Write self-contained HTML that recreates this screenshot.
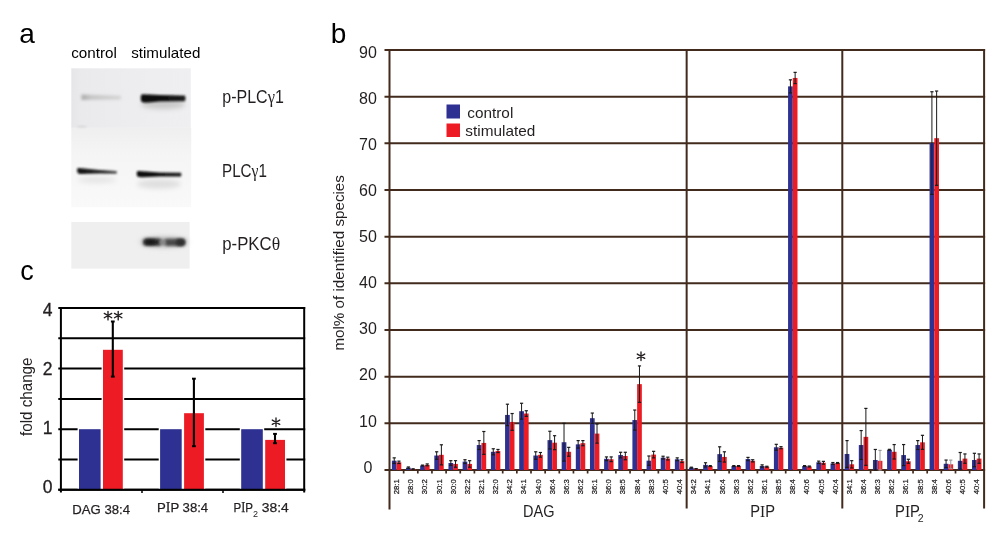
<!DOCTYPE html>
<html><head><meta charset="utf-8"><style>
html,body{margin:0;padding:0;background:#fff;width:1000px;height:533px;overflow:hidden}
svg{display:block;font-family:"Liberation Sans",sans-serif;will-change:transform}
</style></head><body>
<svg width="1000" height="533" viewBox="0 0 1000 533">
<rect width="1000" height="533" fill="#fff"/>
<line x1="384.5" y1="470.00" x2="985.1" y2="470.00" stroke="#422b1c" stroke-width="2"/>
<line x1="384.5" y1="423.33" x2="985.1" y2="423.33" stroke="#422b1c" stroke-width="2"/>
<line x1="384.5" y1="376.66" x2="985.1" y2="376.66" stroke="#422b1c" stroke-width="2"/>
<line x1="384.5" y1="329.99" x2="985.1" y2="329.99" stroke="#422b1c" stroke-width="2"/>
<line x1="384.5" y1="283.32" x2="985.1" y2="283.32" stroke="#422b1c" stroke-width="2"/>
<line x1="384.5" y1="236.65" x2="985.1" y2="236.65" stroke="#422b1c" stroke-width="2"/>
<line x1="384.5" y1="189.98" x2="985.1" y2="189.98" stroke="#422b1c" stroke-width="2"/>
<line x1="384.5" y1="143.31" x2="985.1" y2="143.31" stroke="#422b1c" stroke-width="2"/>
<line x1="384.5" y1="96.64" x2="985.1" y2="96.64" stroke="#422b1c" stroke-width="2"/>
<line x1="384.5" y1="49.97" x2="985.1" y2="49.97" stroke="#422b1c" stroke-width="2"/>
<line x1="389.50" y1="49" x2="389.50" y2="509.5" stroke="#422b1c" stroke-width="2"/>
<line x1="686.65" y1="49" x2="686.65" y2="508.5" stroke="#422b1c" stroke-width="2"/>
<line x1="842.30" y1="49" x2="842.30" y2="508.5" stroke="#422b1c" stroke-width="2"/>
<line x1="984.1" y1="49" x2="984.1" y2="508.5" stroke="#422b1c" stroke-width="2"/>
<line x1="403.65" y1="470" x2="403.65" y2="473.5" stroke="#422b1c" stroke-width="1.7"/>
<line x1="417.80" y1="470" x2="417.80" y2="473.5" stroke="#422b1c" stroke-width="1.7"/>
<line x1="431.95" y1="470" x2="431.95" y2="473.5" stroke="#422b1c" stroke-width="1.7"/>
<line x1="446.10" y1="470" x2="446.10" y2="473.5" stroke="#422b1c" stroke-width="1.7"/>
<line x1="460.25" y1="470" x2="460.25" y2="473.5" stroke="#422b1c" stroke-width="1.7"/>
<line x1="474.40" y1="470" x2="474.40" y2="473.5" stroke="#422b1c" stroke-width="1.7"/>
<line x1="488.55" y1="470" x2="488.55" y2="473.5" stroke="#422b1c" stroke-width="1.7"/>
<line x1="502.70" y1="470" x2="502.70" y2="473.5" stroke="#422b1c" stroke-width="1.7"/>
<line x1="516.85" y1="470" x2="516.85" y2="473.5" stroke="#422b1c" stroke-width="1.7"/>
<line x1="531.00" y1="470" x2="531.00" y2="473.5" stroke="#422b1c" stroke-width="1.7"/>
<line x1="545.15" y1="470" x2="545.15" y2="473.5" stroke="#422b1c" stroke-width="1.7"/>
<line x1="559.30" y1="470" x2="559.30" y2="473.5" stroke="#422b1c" stroke-width="1.7"/>
<line x1="573.45" y1="470" x2="573.45" y2="473.5" stroke="#422b1c" stroke-width="1.7"/>
<line x1="587.60" y1="470" x2="587.60" y2="473.5" stroke="#422b1c" stroke-width="1.7"/>
<line x1="601.75" y1="470" x2="601.75" y2="473.5" stroke="#422b1c" stroke-width="1.7"/>
<line x1="615.90" y1="470" x2="615.90" y2="473.5" stroke="#422b1c" stroke-width="1.7"/>
<line x1="630.05" y1="470" x2="630.05" y2="473.5" stroke="#422b1c" stroke-width="1.7"/>
<line x1="644.20" y1="470" x2="644.20" y2="473.5" stroke="#422b1c" stroke-width="1.7"/>
<line x1="658.35" y1="470" x2="658.35" y2="473.5" stroke="#422b1c" stroke-width="1.7"/>
<line x1="672.50" y1="470" x2="672.50" y2="473.5" stroke="#422b1c" stroke-width="1.7"/>
<line x1="700.80" y1="470" x2="700.80" y2="473.5" stroke="#422b1c" stroke-width="1.7"/>
<line x1="714.95" y1="470" x2="714.95" y2="473.5" stroke="#422b1c" stroke-width="1.7"/>
<line x1="729.10" y1="470" x2="729.10" y2="473.5" stroke="#422b1c" stroke-width="1.7"/>
<line x1="743.25" y1="470" x2="743.25" y2="473.5" stroke="#422b1c" stroke-width="1.7"/>
<line x1="757.40" y1="470" x2="757.40" y2="473.5" stroke="#422b1c" stroke-width="1.7"/>
<line x1="771.55" y1="470" x2="771.55" y2="473.5" stroke="#422b1c" stroke-width="1.7"/>
<line x1="785.70" y1="470" x2="785.70" y2="473.5" stroke="#422b1c" stroke-width="1.7"/>
<line x1="799.85" y1="470" x2="799.85" y2="473.5" stroke="#422b1c" stroke-width="1.7"/>
<line x1="814.00" y1="470" x2="814.00" y2="473.5" stroke="#422b1c" stroke-width="1.7"/>
<line x1="828.15" y1="470" x2="828.15" y2="473.5" stroke="#422b1c" stroke-width="1.7"/>
<line x1="856.45" y1="470" x2="856.45" y2="473.5" stroke="#422b1c" stroke-width="1.7"/>
<line x1="870.60" y1="470" x2="870.60" y2="473.5" stroke="#422b1c" stroke-width="1.7"/>
<line x1="884.75" y1="470" x2="884.75" y2="473.5" stroke="#422b1c" stroke-width="1.7"/>
<line x1="898.90" y1="470" x2="898.90" y2="473.5" stroke="#422b1c" stroke-width="1.7"/>
<line x1="913.05" y1="470" x2="913.05" y2="473.5" stroke="#422b1c" stroke-width="1.7"/>
<line x1="927.20" y1="470" x2="927.20" y2="473.5" stroke="#422b1c" stroke-width="1.7"/>
<line x1="941.35" y1="470" x2="941.35" y2="473.5" stroke="#422b1c" stroke-width="1.7"/>
<line x1="955.50" y1="470" x2="955.50" y2="473.5" stroke="#422b1c" stroke-width="1.7"/>
<line x1="969.65" y1="470" x2="969.65" y2="473.5" stroke="#422b1c" stroke-width="1.7"/>
<rect x="391.86" y="460.67" width="4.72" height="9.33" fill="#2E3192"/>
<rect x="396.57" y="462.30" width="4.72" height="7.70" fill="#ED1C24"/>
<rect x="406.01" y="467.67" width="4.72" height="2.33" fill="#2E3192"/>
<rect x="410.72" y="469.07" width="4.72" height="0.93" fill="#ED1C24"/>
<rect x="420.16" y="465.57" width="4.72" height="4.43" fill="#2E3192"/>
<rect x="424.88" y="464.87" width="4.72" height="5.13" fill="#ED1C24"/>
<rect x="434.31" y="455.53" width="4.72" height="14.47" fill="#2E3192"/>
<rect x="439.02" y="454.83" width="4.72" height="15.17" fill="#ED1C24"/>
<rect x="448.46" y="463.00" width="4.72" height="7.00" fill="#2E3192"/>
<rect x="453.18" y="463.93" width="4.72" height="6.07" fill="#ED1C24"/>
<rect x="462.61" y="461.60" width="4.72" height="8.40" fill="#2E3192"/>
<rect x="467.32" y="463.93" width="4.72" height="6.07" fill="#ED1C24"/>
<rect x="476.76" y="445.03" width="4.72" height="24.97" fill="#2E3192"/>
<rect x="481.47" y="442.93" width="4.72" height="27.07" fill="#ED1C24"/>
<rect x="490.91" y="451.80" width="4.72" height="18.20" fill="#2E3192"/>
<rect x="495.62" y="451.01" width="4.72" height="18.99" fill="#ED1C24"/>
<rect x="505.06" y="414.93" width="4.72" height="55.07" fill="#2E3192"/>
<rect x="509.77" y="421.93" width="4.72" height="48.07" fill="#ED1C24"/>
<rect x="519.21" y="411.20" width="4.72" height="58.80" fill="#2E3192"/>
<rect x="523.93" y="413.53" width="4.72" height="56.47" fill="#ED1C24"/>
<rect x="533.36" y="455.53" width="4.72" height="14.47" fill="#2E3192"/>
<rect x="538.08" y="454.83" width="4.72" height="15.17" fill="#ED1C24"/>
<rect x="547.51" y="440.13" width="4.72" height="29.87" fill="#2E3192"/>
<rect x="552.23" y="442.70" width="4.72" height="27.30" fill="#ED1C24"/>
<rect x="561.66" y="442.23" width="4.72" height="27.77" fill="#2E3192"/>
<rect x="566.38" y="451.80" width="4.72" height="18.20" fill="#ED1C24"/>
<rect x="575.81" y="444.33" width="4.72" height="25.67" fill="#2E3192"/>
<rect x="580.53" y="443.16" width="4.72" height="26.84" fill="#ED1C24"/>
<rect x="589.96" y="418.20" width="4.72" height="51.80" fill="#2E3192"/>
<rect x="594.68" y="433.60" width="4.72" height="36.40" fill="#ED1C24"/>
<rect x="604.11" y="458.80" width="4.72" height="11.20" fill="#2E3192"/>
<rect x="608.83" y="459.27" width="4.72" height="10.73" fill="#ED1C24"/>
<rect x="618.26" y="455.07" width="4.72" height="14.93" fill="#2E3192"/>
<rect x="622.98" y="456.00" width="4.72" height="14.00" fill="#ED1C24"/>
<rect x="632.41" y="420.06" width="4.72" height="49.94" fill="#2E3192"/>
<rect x="637.12" y="384.13" width="4.72" height="85.87" fill="#ED1C24"/>
<rect x="646.56" y="460.67" width="4.72" height="9.33" fill="#2E3192"/>
<rect x="651.28" y="454.60" width="4.72" height="15.40" fill="#ED1C24"/>
<rect x="660.71" y="457.63" width="4.72" height="12.37" fill="#2E3192"/>
<rect x="665.43" y="458.57" width="4.72" height="11.43" fill="#ED1C24"/>
<rect x="674.86" y="459.27" width="4.72" height="10.73" fill="#2E3192"/>
<rect x="679.58" y="461.13" width="4.72" height="8.87" fill="#ED1C24"/>
<rect x="689.01" y="467.67" width="4.72" height="2.33" fill="#2E3192"/>
<rect x="693.73" y="468.83" width="4.72" height="1.17" fill="#ED1C24"/>
<rect x="703.16" y="464.87" width="4.72" height="5.13" fill="#2E3192"/>
<rect x="707.88" y="466.03" width="4.72" height="3.97" fill="#ED1C24"/>
<rect x="717.31" y="454.13" width="4.72" height="15.87" fill="#2E3192"/>
<rect x="722.03" y="456.93" width="4.72" height="13.07" fill="#ED1C24"/>
<rect x="731.46" y="466.03" width="4.72" height="3.97" fill="#2E3192"/>
<rect x="736.18" y="466.03" width="4.72" height="3.97" fill="#ED1C24"/>
<rect x="745.61" y="459.03" width="4.72" height="10.97" fill="#2E3192"/>
<rect x="750.33" y="460.81" width="4.72" height="9.19" fill="#ED1C24"/>
<rect x="759.76" y="466.03" width="4.72" height="3.97" fill="#2E3192"/>
<rect x="764.48" y="466.73" width="4.72" height="3.27" fill="#ED1C24"/>
<rect x="773.91" y="447.27" width="4.72" height="22.73" fill="#2E3192"/>
<rect x="778.62" y="447.69" width="4.72" height="22.31" fill="#ED1C24"/>
<rect x="788.06" y="86.37" width="4.72" height="383.63" fill="#2E3192"/>
<rect x="792.78" y="77.97" width="4.72" height="392.03" fill="#ED1C24"/>
<rect x="802.21" y="466.03" width="4.72" height="3.97" fill="#2E3192"/>
<rect x="806.93" y="466.50" width="4.72" height="3.50" fill="#ED1C24"/>
<rect x="816.36" y="462.30" width="4.72" height="7.70" fill="#2E3192"/>
<rect x="821.08" y="462.77" width="4.72" height="7.23" fill="#ED1C24"/>
<rect x="830.51" y="463.47" width="4.72" height="6.53" fill="#2E3192"/>
<rect x="835.23" y="463.00" width="4.72" height="7.00" fill="#ED1C24"/>
<rect x="844.66" y="453.99" width="4.72" height="16.01" fill="#2E3192"/>
<rect x="849.38" y="464.31" width="4.72" height="5.69" fill="#ED1C24"/>
<rect x="858.81" y="445.03" width="4.72" height="24.97" fill="#2E3192"/>
<rect x="863.53" y="436.86" width="4.72" height="33.14" fill="#ED1C24"/>
<rect x="872.96" y="460.01" width="4.72" height="9.99" fill="#2E3192"/>
<rect x="877.68" y="460.81" width="4.72" height="9.19" fill="#ED1C24"/>
<rect x="887.11" y="449.79" width="4.72" height="20.21" fill="#2E3192"/>
<rect x="891.83" y="451.80" width="4.72" height="18.20" fill="#ED1C24"/>
<rect x="901.26" y="455.07" width="4.72" height="14.93" fill="#2E3192"/>
<rect x="905.98" y="461.27" width="4.72" height="8.73" fill="#ED1C24"/>
<rect x="915.41" y="445.03" width="4.72" height="24.97" fill="#2E3192"/>
<rect x="920.13" y="442.32" width="4.72" height="27.68" fill="#ED1C24"/>
<rect x="929.56" y="143.08" width="4.72" height="326.92" fill="#2E3192"/>
<rect x="934.28" y="138.18" width="4.72" height="331.82" fill="#ED1C24"/>
<rect x="943.71" y="463.79" width="4.72" height="6.21" fill="#2E3192"/>
<rect x="948.43" y="464.31" width="4.72" height="5.69" fill="#ED1C24"/>
<rect x="957.86" y="460.81" width="4.72" height="9.19" fill="#2E3192"/>
<rect x="962.58" y="458.61" width="4.72" height="11.39" fill="#ED1C24"/>
<rect x="972.01" y="460.01" width="4.72" height="9.99" fill="#2E3192"/>
<rect x="976.73" y="458.61" width="4.72" height="11.39" fill="#ED1C24"/>
<line x1="394.22" y1="457.87" x2="394.22" y2="463.47" stroke="#1a1a1a" stroke-width="1"/>
<line x1="392.62" y1="457.87" x2="395.82" y2="457.87" stroke="#1a1a1a" stroke-width="1.2"/>
<line x1="392.62" y1="463.47" x2="395.82" y2="463.47" stroke="#1a1a1a" stroke-width="1.2"/>
<line x1="398.93" y1="461.13" x2="398.93" y2="463.47" stroke="#1a1a1a" stroke-width="1"/>
<line x1="397.33" y1="461.13" x2="400.53" y2="461.13" stroke="#1a1a1a" stroke-width="1.2"/>
<line x1="397.33" y1="463.47" x2="400.53" y2="463.47" stroke="#1a1a1a" stroke-width="1.2"/>
<line x1="408.37" y1="466.97" x2="408.37" y2="468.37" stroke="#1a1a1a" stroke-width="1"/>
<line x1="406.77" y1="466.97" x2="409.97" y2="466.97" stroke="#1a1a1a" stroke-width="1.2"/>
<line x1="406.77" y1="468.37" x2="409.97" y2="468.37" stroke="#1a1a1a" stroke-width="1.2"/>
<line x1="413.08" y1="468.83" x2="413.08" y2="469.30" stroke="#1a1a1a" stroke-width="1"/>
<line x1="411.48" y1="468.83" x2="414.68" y2="468.83" stroke="#1a1a1a" stroke-width="1.2"/>
<line x1="411.48" y1="469.30" x2="414.68" y2="469.30" stroke="#1a1a1a" stroke-width="1.2"/>
<line x1="422.52" y1="465.10" x2="422.52" y2="466.03" stroke="#1a1a1a" stroke-width="1"/>
<line x1="420.92" y1="465.10" x2="424.12" y2="465.10" stroke="#1a1a1a" stroke-width="1.2"/>
<line x1="420.92" y1="466.03" x2="424.12" y2="466.03" stroke="#1a1a1a" stroke-width="1.2"/>
<line x1="427.23" y1="463.93" x2="427.23" y2="465.80" stroke="#1a1a1a" stroke-width="1"/>
<line x1="425.63" y1="463.93" x2="428.83" y2="463.93" stroke="#1a1a1a" stroke-width="1.2"/>
<line x1="425.63" y1="465.80" x2="428.83" y2="465.80" stroke="#1a1a1a" stroke-width="1.2"/>
<line x1="436.67" y1="451.80" x2="436.67" y2="459.27" stroke="#1a1a1a" stroke-width="1"/>
<line x1="435.07" y1="451.80" x2="438.27" y2="451.80" stroke="#1a1a1a" stroke-width="1.2"/>
<line x1="435.07" y1="459.27" x2="438.27" y2="459.27" stroke="#1a1a1a" stroke-width="1.2"/>
<line x1="441.38" y1="444.80" x2="441.38" y2="464.87" stroke="#1a1a1a" stroke-width="1"/>
<line x1="439.78" y1="444.80" x2="442.98" y2="444.80" stroke="#1a1a1a" stroke-width="1.2"/>
<line x1="439.78" y1="464.87" x2="442.98" y2="464.87" stroke="#1a1a1a" stroke-width="1.2"/>
<line x1="450.82" y1="460.67" x2="450.82" y2="465.33" stroke="#1a1a1a" stroke-width="1"/>
<line x1="449.22" y1="460.67" x2="452.42" y2="460.67" stroke="#1a1a1a" stroke-width="1.2"/>
<line x1="449.22" y1="465.33" x2="452.42" y2="465.33" stroke="#1a1a1a" stroke-width="1.2"/>
<line x1="455.53" y1="460.67" x2="455.53" y2="467.20" stroke="#1a1a1a" stroke-width="1"/>
<line x1="453.93" y1="460.67" x2="457.13" y2="460.67" stroke="#1a1a1a" stroke-width="1.2"/>
<line x1="453.93" y1="467.20" x2="457.13" y2="467.20" stroke="#1a1a1a" stroke-width="1.2"/>
<line x1="464.97" y1="459.73" x2="464.97" y2="463.47" stroke="#1a1a1a" stroke-width="1"/>
<line x1="463.37" y1="459.73" x2="466.57" y2="459.73" stroke="#1a1a1a" stroke-width="1.2"/>
<line x1="463.37" y1="463.47" x2="466.57" y2="463.47" stroke="#1a1a1a" stroke-width="1.2"/>
<line x1="469.68" y1="460.67" x2="469.68" y2="467.20" stroke="#1a1a1a" stroke-width="1"/>
<line x1="468.08" y1="460.67" x2="471.28" y2="460.67" stroke="#1a1a1a" stroke-width="1.2"/>
<line x1="468.08" y1="467.20" x2="471.28" y2="467.20" stroke="#1a1a1a" stroke-width="1.2"/>
<line x1="479.12" y1="440.60" x2="479.12" y2="449.47" stroke="#1a1a1a" stroke-width="1"/>
<line x1="477.52" y1="440.60" x2="480.72" y2="440.60" stroke="#1a1a1a" stroke-width="1.2"/>
<line x1="477.52" y1="449.47" x2="480.72" y2="449.47" stroke="#1a1a1a" stroke-width="1.2"/>
<line x1="483.83" y1="431.50" x2="483.83" y2="454.37" stroke="#1a1a1a" stroke-width="1"/>
<line x1="482.23" y1="431.50" x2="485.43" y2="431.50" stroke="#1a1a1a" stroke-width="1.2"/>
<line x1="482.23" y1="454.37" x2="485.43" y2="454.37" stroke="#1a1a1a" stroke-width="1.2"/>
<line x1="493.27" y1="448.77" x2="493.27" y2="454.83" stroke="#1a1a1a" stroke-width="1"/>
<line x1="491.67" y1="448.77" x2="494.87" y2="448.77" stroke="#1a1a1a" stroke-width="1.2"/>
<line x1="491.67" y1="454.83" x2="494.87" y2="454.83" stroke="#1a1a1a" stroke-width="1.2"/>
<line x1="497.98" y1="449.47" x2="497.98" y2="452.55" stroke="#1a1a1a" stroke-width="1"/>
<line x1="496.38" y1="449.47" x2="499.58" y2="449.47" stroke="#1a1a1a" stroke-width="1.2"/>
<line x1="496.38" y1="452.55" x2="499.58" y2="452.55" stroke="#1a1a1a" stroke-width="1.2"/>
<line x1="507.42" y1="404.20" x2="507.42" y2="425.66" stroke="#1a1a1a" stroke-width="1"/>
<line x1="505.82" y1="404.20" x2="509.02" y2="404.20" stroke="#1a1a1a" stroke-width="1.2"/>
<line x1="505.82" y1="425.66" x2="509.02" y2="425.66" stroke="#1a1a1a" stroke-width="1.2"/>
<line x1="512.13" y1="413.53" x2="512.13" y2="430.33" stroke="#1a1a1a" stroke-width="1"/>
<line x1="510.53" y1="413.53" x2="513.73" y2="413.53" stroke="#1a1a1a" stroke-width="1.2"/>
<line x1="510.53" y1="430.33" x2="513.73" y2="430.33" stroke="#1a1a1a" stroke-width="1.2"/>
<line x1="521.57" y1="403.26" x2="521.57" y2="419.13" stroke="#1a1a1a" stroke-width="1"/>
<line x1="519.97" y1="403.26" x2="523.17" y2="403.26" stroke="#1a1a1a" stroke-width="1.2"/>
<line x1="519.97" y1="419.13" x2="523.17" y2="419.13" stroke="#1a1a1a" stroke-width="1.2"/>
<line x1="526.28" y1="410.73" x2="526.28" y2="416.33" stroke="#1a1a1a" stroke-width="1"/>
<line x1="524.68" y1="410.73" x2="527.88" y2="410.73" stroke="#1a1a1a" stroke-width="1.2"/>
<line x1="524.68" y1="416.33" x2="527.88" y2="416.33" stroke="#1a1a1a" stroke-width="1.2"/>
<line x1="535.72" y1="451.80" x2="535.72" y2="459.27" stroke="#1a1a1a" stroke-width="1"/>
<line x1="534.12" y1="451.80" x2="537.32" y2="451.80" stroke="#1a1a1a" stroke-width="1.2"/>
<line x1="534.12" y1="459.27" x2="537.32" y2="459.27" stroke="#1a1a1a" stroke-width="1.2"/>
<line x1="540.43" y1="452.50" x2="540.43" y2="457.17" stroke="#1a1a1a" stroke-width="1"/>
<line x1="538.83" y1="452.50" x2="542.03" y2="452.50" stroke="#1a1a1a" stroke-width="1.2"/>
<line x1="538.83" y1="457.17" x2="542.03" y2="457.17" stroke="#1a1a1a" stroke-width="1.2"/>
<line x1="549.87" y1="431.26" x2="549.87" y2="449.00" stroke="#1a1a1a" stroke-width="1"/>
<line x1="548.27" y1="431.26" x2="551.47" y2="431.26" stroke="#1a1a1a" stroke-width="1.2"/>
<line x1="548.27" y1="449.00" x2="551.47" y2="449.00" stroke="#1a1a1a" stroke-width="1.2"/>
<line x1="554.58" y1="435.70" x2="554.58" y2="449.70" stroke="#1a1a1a" stroke-width="1"/>
<line x1="552.98" y1="435.70" x2="556.18" y2="435.70" stroke="#1a1a1a" stroke-width="1.2"/>
<line x1="552.98" y1="449.70" x2="556.18" y2="449.70" stroke="#1a1a1a" stroke-width="1.2"/>
<line x1="564.02" y1="423.33" x2="564.02" y2="461.13" stroke="#1a1a1a" stroke-width="1"/>
<line x1="562.42" y1="423.33" x2="565.62" y2="423.33" stroke="#1a1a1a" stroke-width="1.2"/>
<line x1="562.42" y1="461.13" x2="565.62" y2="461.13" stroke="#1a1a1a" stroke-width="1.2"/>
<line x1="568.73" y1="447.37" x2="568.73" y2="456.23" stroke="#1a1a1a" stroke-width="1"/>
<line x1="567.13" y1="447.37" x2="570.33" y2="447.37" stroke="#1a1a1a" stroke-width="1.2"/>
<line x1="567.13" y1="456.23" x2="570.33" y2="456.23" stroke="#1a1a1a" stroke-width="1.2"/>
<line x1="578.17" y1="440.60" x2="578.17" y2="448.07" stroke="#1a1a1a" stroke-width="1"/>
<line x1="576.57" y1="440.60" x2="579.77" y2="440.60" stroke="#1a1a1a" stroke-width="1.2"/>
<line x1="576.57" y1="448.07" x2="579.77" y2="448.07" stroke="#1a1a1a" stroke-width="1.2"/>
<line x1="582.88" y1="440.60" x2="582.88" y2="445.73" stroke="#1a1a1a" stroke-width="1"/>
<line x1="581.28" y1="440.60" x2="584.48" y2="440.60" stroke="#1a1a1a" stroke-width="1.2"/>
<line x1="581.28" y1="445.73" x2="584.48" y2="445.73" stroke="#1a1a1a" stroke-width="1.2"/>
<line x1="592.32" y1="413.06" x2="592.32" y2="423.33" stroke="#1a1a1a" stroke-width="1"/>
<line x1="590.72" y1="413.06" x2="593.92" y2="413.06" stroke="#1a1a1a" stroke-width="1.2"/>
<line x1="590.72" y1="423.33" x2="593.92" y2="423.33" stroke="#1a1a1a" stroke-width="1.2"/>
<line x1="597.03" y1="424.03" x2="597.03" y2="443.16" stroke="#1a1a1a" stroke-width="1"/>
<line x1="595.43" y1="424.03" x2="598.63" y2="424.03" stroke="#1a1a1a" stroke-width="1.2"/>
<line x1="595.43" y1="443.16" x2="598.63" y2="443.16" stroke="#1a1a1a" stroke-width="1.2"/>
<line x1="606.47" y1="456.93" x2="606.47" y2="460.67" stroke="#1a1a1a" stroke-width="1"/>
<line x1="604.87" y1="456.93" x2="608.07" y2="456.93" stroke="#1a1a1a" stroke-width="1.2"/>
<line x1="604.87" y1="460.67" x2="608.07" y2="460.67" stroke="#1a1a1a" stroke-width="1.2"/>
<line x1="611.18" y1="456.93" x2="611.18" y2="461.60" stroke="#1a1a1a" stroke-width="1"/>
<line x1="609.58" y1="456.93" x2="612.78" y2="456.93" stroke="#1a1a1a" stroke-width="1.2"/>
<line x1="609.58" y1="461.60" x2="612.78" y2="461.60" stroke="#1a1a1a" stroke-width="1.2"/>
<line x1="620.62" y1="452.27" x2="620.62" y2="457.87" stroke="#1a1a1a" stroke-width="1"/>
<line x1="619.02" y1="452.27" x2="622.22" y2="452.27" stroke="#1a1a1a" stroke-width="1.2"/>
<line x1="619.02" y1="457.87" x2="622.22" y2="457.87" stroke="#1a1a1a" stroke-width="1.2"/>
<line x1="625.33" y1="452.27" x2="625.33" y2="459.73" stroke="#1a1a1a" stroke-width="1"/>
<line x1="623.73" y1="452.27" x2="626.93" y2="452.27" stroke="#1a1a1a" stroke-width="1.2"/>
<line x1="623.73" y1="459.73" x2="626.93" y2="459.73" stroke="#1a1a1a" stroke-width="1.2"/>
<line x1="634.77" y1="410.03" x2="634.77" y2="430.10" stroke="#1a1a1a" stroke-width="1"/>
<line x1="633.17" y1="410.03" x2="636.37" y2="410.03" stroke="#1a1a1a" stroke-width="1.2"/>
<line x1="633.17" y1="430.10" x2="636.37" y2="430.10" stroke="#1a1a1a" stroke-width="1.2"/>
<line x1="639.48" y1="365.93" x2="639.48" y2="402.33" stroke="#1a1a1a" stroke-width="1"/>
<line x1="637.88" y1="365.93" x2="641.08" y2="365.93" stroke="#1a1a1a" stroke-width="1.2"/>
<line x1="637.88" y1="402.33" x2="641.08" y2="402.33" stroke="#1a1a1a" stroke-width="1.2"/>
<line x1="648.92" y1="456.00" x2="648.92" y2="465.33" stroke="#1a1a1a" stroke-width="1"/>
<line x1="647.32" y1="456.00" x2="650.52" y2="456.00" stroke="#1a1a1a" stroke-width="1.2"/>
<line x1="647.32" y1="465.33" x2="650.52" y2="465.33" stroke="#1a1a1a" stroke-width="1.2"/>
<line x1="653.63" y1="451.33" x2="653.63" y2="457.87" stroke="#1a1a1a" stroke-width="1"/>
<line x1="652.03" y1="451.33" x2="655.23" y2="451.33" stroke="#1a1a1a" stroke-width="1.2"/>
<line x1="652.03" y1="457.87" x2="655.23" y2="457.87" stroke="#1a1a1a" stroke-width="1.2"/>
<line x1="663.07" y1="456.23" x2="663.07" y2="459.03" stroke="#1a1a1a" stroke-width="1"/>
<line x1="661.47" y1="456.23" x2="664.67" y2="456.23" stroke="#1a1a1a" stroke-width="1.2"/>
<line x1="661.47" y1="459.03" x2="664.67" y2="459.03" stroke="#1a1a1a" stroke-width="1.2"/>
<line x1="667.78" y1="457.17" x2="667.78" y2="459.97" stroke="#1a1a1a" stroke-width="1"/>
<line x1="666.18" y1="457.17" x2="669.38" y2="457.17" stroke="#1a1a1a" stroke-width="1.2"/>
<line x1="666.18" y1="459.97" x2="669.38" y2="459.97" stroke="#1a1a1a" stroke-width="1.2"/>
<line x1="677.22" y1="457.87" x2="677.22" y2="460.67" stroke="#1a1a1a" stroke-width="1"/>
<line x1="675.62" y1="457.87" x2="678.82" y2="457.87" stroke="#1a1a1a" stroke-width="1.2"/>
<line x1="675.62" y1="460.67" x2="678.82" y2="460.67" stroke="#1a1a1a" stroke-width="1.2"/>
<line x1="681.93" y1="459.73" x2="681.93" y2="462.53" stroke="#1a1a1a" stroke-width="1"/>
<line x1="680.33" y1="459.73" x2="683.53" y2="459.73" stroke="#1a1a1a" stroke-width="1.2"/>
<line x1="680.33" y1="462.53" x2="683.53" y2="462.53" stroke="#1a1a1a" stroke-width="1.2"/>
<line x1="691.37" y1="467.20" x2="691.37" y2="468.13" stroke="#1a1a1a" stroke-width="1"/>
<line x1="689.77" y1="467.20" x2="692.97" y2="467.20" stroke="#1a1a1a" stroke-width="1.2"/>
<line x1="689.77" y1="468.13" x2="692.97" y2="468.13" stroke="#1a1a1a" stroke-width="1.2"/>
<line x1="696.08" y1="468.60" x2="696.08" y2="469.07" stroke="#1a1a1a" stroke-width="1"/>
<line x1="694.48" y1="468.60" x2="697.68" y2="468.60" stroke="#1a1a1a" stroke-width="1.2"/>
<line x1="694.48" y1="469.07" x2="697.68" y2="469.07" stroke="#1a1a1a" stroke-width="1.2"/>
<line x1="705.52" y1="462.77" x2="705.52" y2="466.97" stroke="#1a1a1a" stroke-width="1"/>
<line x1="703.92" y1="462.77" x2="707.12" y2="462.77" stroke="#1a1a1a" stroke-width="1.2"/>
<line x1="703.92" y1="466.97" x2="707.12" y2="466.97" stroke="#1a1a1a" stroke-width="1.2"/>
<line x1="710.23" y1="465.57" x2="710.23" y2="466.50" stroke="#1a1a1a" stroke-width="1"/>
<line x1="708.63" y1="465.57" x2="711.83" y2="465.57" stroke="#1a1a1a" stroke-width="1.2"/>
<line x1="708.63" y1="466.50" x2="711.83" y2="466.50" stroke="#1a1a1a" stroke-width="1.2"/>
<line x1="719.67" y1="446.81" x2="719.67" y2="461.46" stroke="#1a1a1a" stroke-width="1"/>
<line x1="718.07" y1="446.81" x2="721.27" y2="446.81" stroke="#1a1a1a" stroke-width="1.2"/>
<line x1="718.07" y1="461.46" x2="721.27" y2="461.46" stroke="#1a1a1a" stroke-width="1.2"/>
<line x1="724.38" y1="451.80" x2="724.38" y2="462.07" stroke="#1a1a1a" stroke-width="1"/>
<line x1="722.78" y1="451.80" x2="725.98" y2="451.80" stroke="#1a1a1a" stroke-width="1.2"/>
<line x1="722.78" y1="462.07" x2="725.98" y2="462.07" stroke="#1a1a1a" stroke-width="1.2"/>
<line x1="733.82" y1="465.57" x2="733.82" y2="466.50" stroke="#1a1a1a" stroke-width="1"/>
<line x1="732.22" y1="465.57" x2="735.42" y2="465.57" stroke="#1a1a1a" stroke-width="1.2"/>
<line x1="732.22" y1="466.50" x2="735.42" y2="466.50" stroke="#1a1a1a" stroke-width="1.2"/>
<line x1="738.53" y1="465.57" x2="738.53" y2="466.50" stroke="#1a1a1a" stroke-width="1"/>
<line x1="736.93" y1="465.57" x2="740.13" y2="465.57" stroke="#1a1a1a" stroke-width="1.2"/>
<line x1="736.93" y1="466.50" x2="740.13" y2="466.50" stroke="#1a1a1a" stroke-width="1.2"/>
<line x1="747.97" y1="457.40" x2="747.97" y2="460.67" stroke="#1a1a1a" stroke-width="1"/>
<line x1="746.37" y1="457.40" x2="749.57" y2="457.40" stroke="#1a1a1a" stroke-width="1.2"/>
<line x1="746.37" y1="460.67" x2="749.57" y2="460.67" stroke="#1a1a1a" stroke-width="1.2"/>
<line x1="752.68" y1="459.73" x2="752.68" y2="461.88" stroke="#1a1a1a" stroke-width="1"/>
<line x1="751.08" y1="459.73" x2="754.28" y2="459.73" stroke="#1a1a1a" stroke-width="1.2"/>
<line x1="751.08" y1="461.88" x2="754.28" y2="461.88" stroke="#1a1a1a" stroke-width="1.2"/>
<line x1="762.12" y1="464.87" x2="762.12" y2="467.20" stroke="#1a1a1a" stroke-width="1"/>
<line x1="760.52" y1="464.87" x2="763.72" y2="464.87" stroke="#1a1a1a" stroke-width="1.2"/>
<line x1="760.52" y1="467.20" x2="763.72" y2="467.20" stroke="#1a1a1a" stroke-width="1.2"/>
<line x1="766.83" y1="466.27" x2="766.83" y2="467.20" stroke="#1a1a1a" stroke-width="1"/>
<line x1="765.23" y1="466.27" x2="768.43" y2="466.27" stroke="#1a1a1a" stroke-width="1.2"/>
<line x1="765.23" y1="467.20" x2="768.43" y2="467.20" stroke="#1a1a1a" stroke-width="1.2"/>
<line x1="776.27" y1="444.33" x2="776.27" y2="450.21" stroke="#1a1a1a" stroke-width="1"/>
<line x1="774.67" y1="444.33" x2="777.87" y2="444.33" stroke="#1a1a1a" stroke-width="1.2"/>
<line x1="774.67" y1="450.21" x2="777.87" y2="450.21" stroke="#1a1a1a" stroke-width="1.2"/>
<line x1="780.98" y1="446.67" x2="780.98" y2="448.72" stroke="#1a1a1a" stroke-width="1"/>
<line x1="779.38" y1="446.67" x2="782.58" y2="446.67" stroke="#1a1a1a" stroke-width="1.2"/>
<line x1="779.38" y1="448.72" x2="782.58" y2="448.72" stroke="#1a1a1a" stroke-width="1.2"/>
<line x1="790.42" y1="79.84" x2="790.42" y2="92.91" stroke="#1a1a1a" stroke-width="1"/>
<line x1="788.82" y1="79.84" x2="792.02" y2="79.84" stroke="#1a1a1a" stroke-width="1.2"/>
<line x1="788.82" y1="92.91" x2="792.02" y2="92.91" stroke="#1a1a1a" stroke-width="1.2"/>
<line x1="795.13" y1="72.37" x2="795.13" y2="83.57" stroke="#1a1a1a" stroke-width="1"/>
<line x1="793.53" y1="72.37" x2="796.73" y2="72.37" stroke="#1a1a1a" stroke-width="1.2"/>
<line x1="793.53" y1="83.57" x2="796.73" y2="83.57" stroke="#1a1a1a" stroke-width="1.2"/>
<line x1="804.57" y1="465.57" x2="804.57" y2="466.50" stroke="#1a1a1a" stroke-width="1"/>
<line x1="802.97" y1="465.57" x2="806.17" y2="465.57" stroke="#1a1a1a" stroke-width="1.2"/>
<line x1="802.97" y1="466.50" x2="806.17" y2="466.50" stroke="#1a1a1a" stroke-width="1.2"/>
<line x1="809.28" y1="466.03" x2="809.28" y2="466.97" stroke="#1a1a1a" stroke-width="1"/>
<line x1="807.68" y1="466.03" x2="810.88" y2="466.03" stroke="#1a1a1a" stroke-width="1.2"/>
<line x1="807.68" y1="466.97" x2="810.88" y2="466.97" stroke="#1a1a1a" stroke-width="1.2"/>
<line x1="818.72" y1="461.13" x2="818.72" y2="463.47" stroke="#1a1a1a" stroke-width="1"/>
<line x1="817.12" y1="461.13" x2="820.32" y2="461.13" stroke="#1a1a1a" stroke-width="1.2"/>
<line x1="817.12" y1="463.47" x2="820.32" y2="463.47" stroke="#1a1a1a" stroke-width="1.2"/>
<line x1="823.43" y1="461.37" x2="823.43" y2="464.17" stroke="#1a1a1a" stroke-width="1"/>
<line x1="821.83" y1="461.37" x2="825.03" y2="461.37" stroke="#1a1a1a" stroke-width="1.2"/>
<line x1="821.83" y1="464.17" x2="825.03" y2="464.17" stroke="#1a1a1a" stroke-width="1.2"/>
<line x1="832.87" y1="462.53" x2="832.87" y2="464.40" stroke="#1a1a1a" stroke-width="1"/>
<line x1="831.27" y1="462.53" x2="834.47" y2="462.53" stroke="#1a1a1a" stroke-width="1.2"/>
<line x1="831.27" y1="464.40" x2="834.47" y2="464.40" stroke="#1a1a1a" stroke-width="1.2"/>
<line x1="837.58" y1="462.53" x2="837.58" y2="463.47" stroke="#1a1a1a" stroke-width="1"/>
<line x1="835.98" y1="462.53" x2="839.18" y2="462.53" stroke="#1a1a1a" stroke-width="1.2"/>
<line x1="835.98" y1="463.47" x2="839.18" y2="463.47" stroke="#1a1a1a" stroke-width="1.2"/>
<line x1="847.02" y1="440.60" x2="847.02" y2="467.39" stroke="#1a1a1a" stroke-width="1"/>
<line x1="845.42" y1="440.60" x2="848.62" y2="440.60" stroke="#1a1a1a" stroke-width="1.2"/>
<line x1="845.42" y1="467.39" x2="848.62" y2="467.39" stroke="#1a1a1a" stroke-width="1.2"/>
<line x1="851.73" y1="460.67" x2="851.73" y2="467.95" stroke="#1a1a1a" stroke-width="1"/>
<line x1="850.13" y1="460.67" x2="853.33" y2="460.67" stroke="#1a1a1a" stroke-width="1.2"/>
<line x1="850.13" y1="467.95" x2="853.33" y2="467.95" stroke="#1a1a1a" stroke-width="1.2"/>
<line x1="861.17" y1="430.56" x2="861.17" y2="459.50" stroke="#1a1a1a" stroke-width="1"/>
<line x1="859.57" y1="430.56" x2="862.77" y2="430.56" stroke="#1a1a1a" stroke-width="1.2"/>
<line x1="859.57" y1="459.50" x2="862.77" y2="459.50" stroke="#1a1a1a" stroke-width="1.2"/>
<line x1="865.88" y1="408.40" x2="865.88" y2="465.33" stroke="#1a1a1a" stroke-width="1"/>
<line x1="864.28" y1="408.40" x2="867.48" y2="408.40" stroke="#1a1a1a" stroke-width="1.2"/>
<line x1="864.28" y1="465.33" x2="867.48" y2="465.33" stroke="#1a1a1a" stroke-width="1.2"/>
<line x1="875.32" y1="449.47" x2="875.32" y2="470.00" stroke="#1a1a1a" stroke-width="1"/>
<line x1="873.72" y1="449.47" x2="876.92" y2="449.47" stroke="#1a1a1a" stroke-width="1.2"/>
<line x1="873.72" y1="470.00" x2="876.92" y2="470.00" stroke="#1a1a1a" stroke-width="1.2"/>
<line x1="880.03" y1="450.40" x2="880.03" y2="470.00" stroke="#9a9a9a" stroke-width="1"/>
<line x1="878.43" y1="450.40" x2="881.63" y2="450.40" stroke="#9a9a9a" stroke-width="1.2"/>
<line x1="878.43" y1="470.00" x2="881.63" y2="470.00" stroke="#9a9a9a" stroke-width="1.2"/>
<line x1="889.47" y1="449.33" x2="889.47" y2="450.26" stroke="#1a1a1a" stroke-width="1"/>
<line x1="887.87" y1="449.33" x2="891.07" y2="449.33" stroke="#1a1a1a" stroke-width="1.2"/>
<line x1="887.87" y1="450.26" x2="891.07" y2="450.26" stroke="#1a1a1a" stroke-width="1.2"/>
<line x1="894.18" y1="444.56" x2="894.18" y2="459.03" stroke="#1a1a1a" stroke-width="1"/>
<line x1="892.58" y1="444.56" x2="895.78" y2="444.56" stroke="#1a1a1a" stroke-width="1.2"/>
<line x1="892.58" y1="459.03" x2="895.78" y2="459.03" stroke="#1a1a1a" stroke-width="1.2"/>
<line x1="903.62" y1="444.56" x2="903.62" y2="465.57" stroke="#1a1a1a" stroke-width="1"/>
<line x1="902.02" y1="444.56" x2="905.22" y2="444.56" stroke="#1a1a1a" stroke-width="1.2"/>
<line x1="902.02" y1="465.57" x2="905.22" y2="465.57" stroke="#1a1a1a" stroke-width="1.2"/>
<line x1="908.33" y1="459.27" x2="908.33" y2="463.28" stroke="#1a1a1a" stroke-width="1"/>
<line x1="906.73" y1="459.27" x2="909.93" y2="459.27" stroke="#1a1a1a" stroke-width="1.2"/>
<line x1="906.73" y1="463.28" x2="909.93" y2="463.28" stroke="#1a1a1a" stroke-width="1.2"/>
<line x1="917.77" y1="440.60" x2="917.77" y2="449.47" stroke="#1a1a1a" stroke-width="1"/>
<line x1="916.17" y1="440.60" x2="919.37" y2="440.60" stroke="#1a1a1a" stroke-width="1.2"/>
<line x1="916.17" y1="449.47" x2="919.37" y2="449.47" stroke="#1a1a1a" stroke-width="1.2"/>
<line x1="922.48" y1="435.32" x2="922.48" y2="449.33" stroke="#1a1a1a" stroke-width="1"/>
<line x1="920.88" y1="435.32" x2="924.08" y2="435.32" stroke="#1a1a1a" stroke-width="1.2"/>
<line x1="920.88" y1="449.33" x2="924.08" y2="449.33" stroke="#1a1a1a" stroke-width="1.2"/>
<line x1="931.92" y1="91.74" x2="931.92" y2="194.41" stroke="#1a1a1a" stroke-width="1"/>
<line x1="930.32" y1="91.74" x2="933.52" y2="91.74" stroke="#1a1a1a" stroke-width="1.2"/>
<line x1="930.32" y1="194.41" x2="933.52" y2="194.41" stroke="#1a1a1a" stroke-width="1.2"/>
<line x1="936.63" y1="91.04" x2="936.63" y2="185.31" stroke="#1a1a1a" stroke-width="1"/>
<line x1="935.03" y1="91.04" x2="938.23" y2="91.04" stroke="#1a1a1a" stroke-width="1.2"/>
<line x1="935.03" y1="185.31" x2="938.23" y2="185.31" stroke="#1a1a1a" stroke-width="1.2"/>
<line x1="946.07" y1="460.06" x2="946.07" y2="467.53" stroke="#1a1a1a" stroke-width="1"/>
<line x1="944.47" y1="460.06" x2="947.67" y2="460.06" stroke="#1a1a1a" stroke-width="1.2"/>
<line x1="944.47" y1="467.53" x2="947.67" y2="467.53" stroke="#1a1a1a" stroke-width="1.2"/>
<line x1="950.78" y1="460.11" x2="950.78" y2="468.51" stroke="#9a9a9a" stroke-width="1"/>
<line x1="949.18" y1="460.11" x2="952.38" y2="460.11" stroke="#9a9a9a" stroke-width="1.2"/>
<line x1="949.18" y1="468.51" x2="952.38" y2="468.51" stroke="#9a9a9a" stroke-width="1.2"/>
<line x1="960.22" y1="452.50" x2="960.22" y2="469.11" stroke="#1a1a1a" stroke-width="1"/>
<line x1="958.62" y1="452.50" x2="961.82" y2="452.50" stroke="#1a1a1a" stroke-width="1.2"/>
<line x1="958.62" y1="469.11" x2="961.82" y2="469.11" stroke="#1a1a1a" stroke-width="1.2"/>
<line x1="964.93" y1="453.95" x2="964.93" y2="463.28" stroke="#1a1a1a" stroke-width="1"/>
<line x1="963.33" y1="453.95" x2="966.53" y2="453.95" stroke="#1a1a1a" stroke-width="1.2"/>
<line x1="963.33" y1="463.28" x2="966.53" y2="463.28" stroke="#1a1a1a" stroke-width="1.2"/>
<line x1="974.37" y1="453.29" x2="974.37" y2="466.73" stroke="#1a1a1a" stroke-width="1"/>
<line x1="972.77" y1="453.29" x2="975.97" y2="453.29" stroke="#1a1a1a" stroke-width="1.2"/>
<line x1="972.77" y1="466.73" x2="975.97" y2="466.73" stroke="#1a1a1a" stroke-width="1.2"/>
<line x1="979.08" y1="453.95" x2="979.08" y2="463.28" stroke="#1a1a1a" stroke-width="1"/>
<line x1="977.48" y1="453.95" x2="980.68" y2="453.95" stroke="#1a1a1a" stroke-width="1.2"/>
<line x1="977.48" y1="463.28" x2="980.68" y2="463.28" stroke="#1a1a1a" stroke-width="1.2"/>
<text transform="translate(399.07,494.2) rotate(-90)" font-size="7.9" textLength="15" lengthAdjust="spacingAndGlyphs" fill="#231F20" stroke="#231F20" stroke-width="0.25">28:1</text>
<text transform="translate(413.22,494.2) rotate(-90)" font-size="7.9" textLength="15" lengthAdjust="spacingAndGlyphs" fill="#231F20" stroke="#231F20" stroke-width="0.25">28:0</text>
<text transform="translate(427.38,494.2) rotate(-90)" font-size="7.9" textLength="15" lengthAdjust="spacingAndGlyphs" fill="#231F20" stroke="#231F20" stroke-width="0.25">30:2</text>
<text transform="translate(441.52,494.2) rotate(-90)" font-size="7.9" textLength="15" lengthAdjust="spacingAndGlyphs" fill="#231F20" stroke="#231F20" stroke-width="0.25">30:1</text>
<text transform="translate(455.68,494.2) rotate(-90)" font-size="7.9" textLength="15" lengthAdjust="spacingAndGlyphs" fill="#231F20" stroke="#231F20" stroke-width="0.25">30:0</text>
<text transform="translate(469.82,494.2) rotate(-90)" font-size="7.9" textLength="15" lengthAdjust="spacingAndGlyphs" fill="#231F20" stroke="#231F20" stroke-width="0.25">32:2</text>
<text transform="translate(483.97,494.2) rotate(-90)" font-size="7.9" textLength="15" lengthAdjust="spacingAndGlyphs" fill="#231F20" stroke="#231F20" stroke-width="0.25">32:1</text>
<text transform="translate(498.12,494.2) rotate(-90)" font-size="7.9" textLength="15" lengthAdjust="spacingAndGlyphs" fill="#231F20" stroke="#231F20" stroke-width="0.25">32:0</text>
<text transform="translate(512.27,494.2) rotate(-90)" font-size="7.9" textLength="15" lengthAdjust="spacingAndGlyphs" fill="#231F20" stroke="#231F20" stroke-width="0.25">34:2</text>
<text transform="translate(526.43,494.2) rotate(-90)" font-size="7.9" textLength="15" lengthAdjust="spacingAndGlyphs" fill="#231F20" stroke="#231F20" stroke-width="0.25">34:1</text>
<text transform="translate(540.58,494.2) rotate(-90)" font-size="7.9" textLength="15" lengthAdjust="spacingAndGlyphs" fill="#231F20" stroke="#231F20" stroke-width="0.25">34:0</text>
<text transform="translate(554.73,494.2) rotate(-90)" font-size="7.9" textLength="15" lengthAdjust="spacingAndGlyphs" fill="#231F20" stroke="#231F20" stroke-width="0.25">36:4</text>
<text transform="translate(568.88,494.2) rotate(-90)" font-size="7.9" textLength="15" lengthAdjust="spacingAndGlyphs" fill="#231F20" stroke="#231F20" stroke-width="0.25">36:3</text>
<text transform="translate(583.03,494.2) rotate(-90)" font-size="7.9" textLength="15" lengthAdjust="spacingAndGlyphs" fill="#231F20" stroke="#231F20" stroke-width="0.25">36:2</text>
<text transform="translate(597.18,494.2) rotate(-90)" font-size="7.9" textLength="15" lengthAdjust="spacingAndGlyphs" fill="#231F20" stroke="#231F20" stroke-width="0.25">36:1</text>
<text transform="translate(611.33,494.2) rotate(-90)" font-size="7.9" textLength="15" lengthAdjust="spacingAndGlyphs" fill="#231F20" stroke="#231F20" stroke-width="0.25">36:0</text>
<text transform="translate(625.48,494.2) rotate(-90)" font-size="7.9" textLength="15" lengthAdjust="spacingAndGlyphs" fill="#231F20" stroke="#231F20" stroke-width="0.25">38:5</text>
<text transform="translate(639.62,494.2) rotate(-90)" font-size="7.9" textLength="15" lengthAdjust="spacingAndGlyphs" fill="#231F20" stroke="#231F20" stroke-width="0.25">38:4</text>
<text transform="translate(653.78,494.2) rotate(-90)" font-size="7.9" textLength="15" lengthAdjust="spacingAndGlyphs" fill="#231F20" stroke="#231F20" stroke-width="0.25">38:3</text>
<text transform="translate(667.93,494.2) rotate(-90)" font-size="7.9" textLength="15" lengthAdjust="spacingAndGlyphs" fill="#231F20" stroke="#231F20" stroke-width="0.25">40:5</text>
<text transform="translate(682.08,494.2) rotate(-90)" font-size="7.9" textLength="15" lengthAdjust="spacingAndGlyphs" fill="#231F20" stroke="#231F20" stroke-width="0.25">40:4</text>
<text transform="translate(696.23,494.2) rotate(-90)" font-size="7.9" textLength="15" lengthAdjust="spacingAndGlyphs" fill="#231F20" stroke="#231F20" stroke-width="0.25">34:2</text>
<text transform="translate(710.38,494.2) rotate(-90)" font-size="7.9" textLength="15" lengthAdjust="spacingAndGlyphs" fill="#231F20" stroke="#231F20" stroke-width="0.25">34:1</text>
<text transform="translate(724.53,494.2) rotate(-90)" font-size="7.9" textLength="15" lengthAdjust="spacingAndGlyphs" fill="#231F20" stroke="#231F20" stroke-width="0.25">36:4</text>
<text transform="translate(738.68,494.2) rotate(-90)" font-size="7.9" textLength="15" lengthAdjust="spacingAndGlyphs" fill="#231F20" stroke="#231F20" stroke-width="0.25">36:3</text>
<text transform="translate(752.83,494.2) rotate(-90)" font-size="7.9" textLength="15" lengthAdjust="spacingAndGlyphs" fill="#231F20" stroke="#231F20" stroke-width="0.25">36:2</text>
<text transform="translate(766.98,494.2) rotate(-90)" font-size="7.9" textLength="15" lengthAdjust="spacingAndGlyphs" fill="#231F20" stroke="#231F20" stroke-width="0.25">36:1</text>
<text transform="translate(781.12,494.2) rotate(-90)" font-size="7.9" textLength="15" lengthAdjust="spacingAndGlyphs" fill="#231F20" stroke="#231F20" stroke-width="0.25">38:5</text>
<text transform="translate(795.28,494.2) rotate(-90)" font-size="7.9" textLength="15" lengthAdjust="spacingAndGlyphs" fill="#231F20" stroke="#231F20" stroke-width="0.25">38:4</text>
<text transform="translate(809.43,494.2) rotate(-90)" font-size="7.9" textLength="15" lengthAdjust="spacingAndGlyphs" fill="#231F20" stroke="#231F20" stroke-width="0.25">40:6</text>
<text transform="translate(823.58,494.2) rotate(-90)" font-size="7.9" textLength="15" lengthAdjust="spacingAndGlyphs" fill="#231F20" stroke="#231F20" stroke-width="0.25">40:5</text>
<text transform="translate(837.73,494.2) rotate(-90)" font-size="7.9" textLength="15" lengthAdjust="spacingAndGlyphs" fill="#231F20" stroke="#231F20" stroke-width="0.25">40:4</text>
<text transform="translate(851.88,494.2) rotate(-90)" font-size="7.9" textLength="15" lengthAdjust="spacingAndGlyphs" fill="#231F20" stroke="#231F20" stroke-width="0.25">34:1</text>
<text transform="translate(866.03,494.2) rotate(-90)" font-size="7.9" textLength="15" lengthAdjust="spacingAndGlyphs" fill="#231F20" stroke="#231F20" stroke-width="0.25">36:4</text>
<text transform="translate(880.18,494.2) rotate(-90)" font-size="7.9" textLength="15" lengthAdjust="spacingAndGlyphs" fill="#231F20" stroke="#231F20" stroke-width="0.25">36:3</text>
<text transform="translate(894.33,494.2) rotate(-90)" font-size="7.9" textLength="15" lengthAdjust="spacingAndGlyphs" fill="#231F20" stroke="#231F20" stroke-width="0.25">36:2</text>
<text transform="translate(908.48,494.2) rotate(-90)" font-size="7.9" textLength="15" lengthAdjust="spacingAndGlyphs" fill="#231F20" stroke="#231F20" stroke-width="0.25">36:1</text>
<text transform="translate(922.63,494.2) rotate(-90)" font-size="7.9" textLength="15" lengthAdjust="spacingAndGlyphs" fill="#231F20" stroke="#231F20" stroke-width="0.25">38:5</text>
<text transform="translate(936.78,494.2) rotate(-90)" font-size="7.9" textLength="15" lengthAdjust="spacingAndGlyphs" fill="#231F20" stroke="#231F20" stroke-width="0.25">38:4</text>
<text transform="translate(950.93,494.2) rotate(-90)" font-size="7.9" textLength="15" lengthAdjust="spacingAndGlyphs" fill="#231F20" stroke="#231F20" stroke-width="0.25">40:6</text>
<text transform="translate(965.08,494.2) rotate(-90)" font-size="7.9" textLength="15" lengthAdjust="spacingAndGlyphs" fill="#231F20" stroke="#231F20" stroke-width="0.25">40:5</text>
<text transform="translate(979.23,494.2) rotate(-90)" font-size="7.9" textLength="15" lengthAdjust="spacingAndGlyphs" fill="#231F20" stroke="#231F20" stroke-width="0.25">40:4</text>
<text x="368" y="472.58" font-size="16" text-anchor="middle" fill="#231F20">0</text>
<text x="368" y="426.51" font-size="16" text-anchor="middle" fill="#231F20">10</text>
<text x="368" y="380.44" font-size="16" text-anchor="middle" fill="#231F20">20</text>
<text x="368" y="334.37" font-size="16" text-anchor="middle" fill="#231F20">30</text>
<text x="368" y="288.30" font-size="16" text-anchor="middle" fill="#231F20">40</text>
<text x="368" y="242.23" font-size="16" text-anchor="middle" fill="#231F20">50</text>
<text x="368" y="196.16" font-size="16" text-anchor="middle" fill="#231F20">60</text>
<text x="368" y="150.09" font-size="16" text-anchor="middle" fill="#231F20">70</text>
<text x="368" y="104.02" font-size="16" text-anchor="middle" fill="#231F20">80</text>
<text x="368" y="57.95" font-size="16" text-anchor="middle" fill="#231F20">90</text>
<text transform="translate(343.6,350.6) rotate(-90)" font-size="15.4" textLength="175.5" lengthAdjust="spacingAndGlyphs" fill="#231F20">mol% of identified species</text>
<rect x="446.5" y="104.5" width="13.5" height="14" fill="#2E3192"/>
<rect x="446.5" y="123.5" width="13.5" height="13.5" fill="#ED1C24"/>
<text x="467.3" y="117.5" font-size="15" textLength="46" lengthAdjust="spacingAndGlyphs" fill="#231F20">control</text>
<text x="465.3" y="135.5" font-size="15" textLength="70" lengthAdjust="spacingAndGlyphs" fill="#231F20">stimulated</text>
<path d="M641.00 351.90V360.50M637.28 354.05L644.72 358.35M637.28 358.35L644.72 354.05" stroke="#231F20" stroke-width="1.35" fill="none" stroke-linecap="round"/>
<text x="523" y="517" font-size="16.2" textLength="31.5" lengthAdjust="spacingAndGlyphs" fill="#231F20">DAG</text>
<text x="750.3" y="517" font-size="16.2" textLength="24.8" lengthAdjust="spacingAndGlyphs" fill="#231F20">P<tspan font-family="Liberation Serif" font-size="1.05em">I</tspan>P</text>
<text x="895" y="516.7" font-size="16.2" textLength="25" lengthAdjust="spacingAndGlyphs" fill="#231F20">P<tspan font-family="Liberation Serif" font-size="1.05em">I</tspan>P</text>
<text x="917.8" y="522" font-size="10.5" fill="#231F20">2</text>
<text x="19.2" y="43.4" font-size="28" fill="#000">a</text>
<text x="330.8" y="43" font-size="28" fill="#000">b</text>
<text x="20.3" y="279.8" font-size="27" fill="#000">c</text>
<defs>
<filter id="bl1" x="-30%" y="-200%" width="160%" height="500%"><feGaussianBlur stdDeviation="1.25"/></filter>
<filter id="bl1b" x="-30%" y="-200%" width="160%" height="500%"><feGaussianBlur stdDeviation="0.95"/></filter>
<filter id="bl3b" x="-30%" y="-200%" width="160%" height="500%"><feGaussianBlur stdDeviation="1.45"/></filter>
<filter id="bl2b" x="-30%" y="-200%" width="160%" height="500%"><feGaussianBlur stdDeviation="1.4"/></filter>
<filter id="bl2" x="-30%" y="-200%" width="160%" height="500%"><feGaussianBlur stdDeviation="2.5"/></filter>
<filter id="bl3" x="-30%" y="-200%" width="160%" height="500%"><feGaussianBlur stdDeviation="0.7"/></filter>
<linearGradient id="bg1" x1="0" x2="1" y1="0" y2="0"><stop offset="0" stop-color="#e6e6e9"/><stop offset="0.08" stop-color="#eaeaed"/><stop offset="0.5" stop-color="#ededf0"/><stop offset="1" stop-color="#efeff1"/></linearGradient>
<linearGradient id="g1" x1="0" x2="1" y1="0" y2="0"><stop offset="0" stop-color="#0a0a0a"/><stop offset="0.6" stop-color="#111"/><stop offset="1" stop-color="#1e1e1e"/></linearGradient>
<linearGradient id="g2" x1="0" x2="1" y1="0" y2="0"><stop offset="0" stop-color="#121212"/><stop offset="0.7" stop-color="#2a2a2a"/><stop offset="1" stop-color="#555"/></linearGradient>
<linearGradient id="g0" x1="0" x2="1" y1="0" y2="0"><stop offset="0" stop-color="#a9a9a9"/><stop offset="0.25" stop-color="#c6c6c6"/><stop offset="1" stop-color="#d3d3d3"/></linearGradient>
<linearGradient id="bg2" x1="0" x2="0" y1="0" y2="1"><stop offset="0" stop-color="#efeff0"/><stop offset="0.35" stop-color="#f5f5f6"/><stop offset="1" stop-color="#f9f9f9"/></linearGradient>
</defs>
<rect x="71.3" y="68.3" width="119.5" height="59.6" fill="url(#bg1)"/>
<rect x="71.3" y="127.9" width="119.9" height="79.3" fill="url(#bg2)"/>
<rect x="71.3" y="222" width="118.3" height="46.6" fill="#efeff0"/>
<ellipse cx="82" cy="126.6" rx="5" ry="0.8" fill="#d2d2d2" filter="url(#bl1b)"/>
<path d="M81.5 94.5 L121 95.8 L121 99.4 L81.5 100 Z" fill="url(#g0)" filter="url(#bl2b)"/>
<ellipse cx="163" cy="104.5" rx="22" ry="4.5" fill="#c8c8c8" filter="url(#bl2)"/>
<path d="M140.8 96 Q140.8 94 143.5 94.2 L160 95 L185 95.4 Q186.2 98.3 185 101.2 L160 101.4 L146 102.8 Q140.8 103 140.8 99.5 Z" fill="url(#g1)" filter="url(#bl1)"/>
<ellipse cx="97" cy="180" rx="19" ry="3" fill="#e4e4e4" filter="url(#bl2)"/>
<ellipse cx="159" cy="184" rx="22" ry="4.5" fill="#dedede" filter="url(#bl2)"/>
<path d="M77.2 169.3 Q77 167.8 79 168 L100 170 L116.5 171.1 Q117.4 172.5 116.5 173.7 L100 173.6 L80 173.9 Q77.2 173.7 77.2 171.8 Z" fill="url(#g2)" filter="url(#bl1b)"/>
<path d="M136.8 172.2 Q136.8 170.8 139 171 L160 172.4 L181 172.8 Q181.8 174.8 181 176.6 L160 176.6 L142 177.2 Q136.8 177.3 136.8 175 Z" fill="url(#g1)" filter="url(#bl1b)"/>
<ellipse cx="164" cy="242" rx="24" ry="5.5" fill="#bdbdbd" filter="url(#bl2)"/>
<rect x="143" y="238.5" width="18.5" height="7.2" rx="3.3" fill="#262626" filter="url(#bl3b)"/>
<rect x="164" y="238.7" width="21" height="7.2" rx="3.3" fill="#4a4a4a" filter="url(#bl3b)"/>
<rect x="176" y="239" width="9" height="6.8" rx="3.2" fill="#2e2e2e" filter="url(#bl3b)"/>
<rect x="146" y="239.5" width="9" height="5" rx="2.4" fill="#151515" filter="url(#bl3b)"/>
<rect x="159" y="239.8" width="7" height="5" rx="2" fill="#858585" filter="url(#bl3b)"/>
<text x="71.2" y="57.8" font-size="15" textLength="45.6" lengthAdjust="spacingAndGlyphs" fill="#000">control</text>
<text x="131.2" y="57.8" font-size="15" textLength="69.2" lengthAdjust="spacingAndGlyphs" fill="#000">stimulated</text>
<text x="222.3" y="103.1" font-size="18.5" textLength="61.5" lengthAdjust="spacingAndGlyphs" fill="#231F20">p-PLC<tspan font-family="Liberation Serif" font-size="19">γ</tspan>1</text>
<text x="222" y="176.5" font-size="18.5" textLength="45" lengthAdjust="spacingAndGlyphs" fill="#231F20">PLC<tspan font-family="Liberation Serif" font-size="19">γ</tspan>1</text>
<text x="222.3" y="249.8" font-size="18.5" textLength="57.8" lengthAdjust="spacingAndGlyphs" fill="#231F20">p-PKC<tspan font-family="Liberation Serif" font-size="19.5">θ</tspan></text>
<line x1="58.3" y1="308.00" x2="305.2" y2="308.00" stroke="#000" stroke-width="2"/>
<line x1="58.3" y1="338.30" x2="305.2" y2="338.30" stroke="#000" stroke-width="2"/>
<line x1="58.3" y1="368.60" x2="305.2" y2="368.60" stroke="#000" stroke-width="2"/>
<line x1="58.3" y1="398.90" x2="305.2" y2="398.90" stroke="#000" stroke-width="2"/>
<line x1="58.3" y1="429.20" x2="305.2" y2="429.20" stroke="#000" stroke-width="2"/>
<line x1="58.3" y1="459.50" x2="305.2" y2="459.50" stroke="#000" stroke-width="2"/>
<line x1="58.3" y1="489.80" x2="305.2" y2="489.80" stroke="#000" stroke-width="2"/>
<line x1="60.9" y1="307" x2="60.9" y2="492.5" stroke="#000" stroke-width="2"/>
<line x1="304.2" y1="307" x2="304.2" y2="492.5" stroke="#000" stroke-width="2"/>
<line x1="142" y1="489.8" x2="142" y2="493" stroke="#000" stroke-width="1.5"/>
<line x1="223" y1="489.8" x2="223" y2="493" stroke="#000" stroke-width="1.5"/>
<rect x="77.60" y="427.8" width="24.4" height="62.00" fill="#fff"/>
<rect x="101.60" y="348.40" width="22.6" height="141.40" fill="#fff"/>
<rect x="79.00" y="429.2" width="21.6" height="60.60" fill="#2E3192"/>
<rect x="103.00" y="349.80" width="19.8" height="140.00" fill="#ED1C24"/>
<line x1="112.80" y1="321.50" x2="112.80" y2="376.60" stroke="#000" stroke-width="2.1"/>
<line x1="110.90" y1="321.50" x2="114.70" y2="321.50" stroke="#000" stroke-width="2"/>
<line x1="110.90" y1="376.60" x2="114.70" y2="376.60" stroke="#000" stroke-width="2"/>
<rect x="158.70" y="427.8" width="24.4" height="62.00" fill="#fff"/>
<rect x="182.70" y="411.80" width="22.6" height="78.00" fill="#fff"/>
<rect x="160.10" y="429.2" width="21.6" height="60.60" fill="#2E3192"/>
<rect x="184.10" y="413.20" width="19.8" height="76.60" fill="#ED1C24"/>
<line x1="193.90" y1="378.70" x2="193.90" y2="446.20" stroke="#000" stroke-width="2.1"/>
<line x1="192.00" y1="378.70" x2="195.80" y2="378.70" stroke="#000" stroke-width="2"/>
<line x1="192.00" y1="446.20" x2="195.80" y2="446.20" stroke="#000" stroke-width="2"/>
<rect x="239.80" y="427.8" width="24.4" height="62.00" fill="#fff"/>
<rect x="263.80" y="438.50" width="22.6" height="51.30" fill="#fff"/>
<rect x="241.20" y="429.2" width="21.6" height="60.60" fill="#2E3192"/>
<rect x="265.20" y="439.90" width="19.8" height="49.90" fill="#ED1C24"/>
<line x1="275.00" y1="433.90" x2="275.00" y2="443.20" stroke="#000" stroke-width="2.1"/>
<line x1="273.10" y1="433.90" x2="276.90" y2="433.90" stroke="#000" stroke-width="2"/>
<line x1="273.10" y1="443.20" x2="276.90" y2="443.20" stroke="#000" stroke-width="2"/>
<line x1="58.3" y1="489.80" x2="305.2" y2="489.80" stroke="#000" stroke-width="2"/>
<text x="47.5" y="316.20" font-size="17.5" text-anchor="middle" fill="#231F20" stroke="#231F20" stroke-width="0.3">4</text>
<text x="47.5" y="375.06" font-size="17.5" text-anchor="middle" fill="#231F20" stroke="#231F20" stroke-width="0.3">2</text>
<text x="47.5" y="433.92" font-size="17.5" text-anchor="middle" fill="#231F20" stroke="#231F20" stroke-width="0.3">1</text>
<text x="47.5" y="492.78" font-size="17.5" text-anchor="middle" fill="#231F20" stroke="#231F20" stroke-width="0.3">0</text>
<text transform="translate(32.4,436) rotate(-90)" font-size="16" textLength="78.5" lengthAdjust="spacingAndGlyphs" fill="#231F20">fold change</text>
<path d="M108.00 311.30V319.90M104.28 313.45L111.72 317.75M104.28 317.75L111.72 313.45" stroke="#231F20" stroke-width="1.35" fill="none" stroke-linecap="round"/>
<path d="M118.20 311.30V319.90M114.48 313.45L121.92 317.75M114.48 317.75L121.92 313.45" stroke="#231F20" stroke-width="1.35" fill="none" stroke-linecap="round"/>
<path d="M276.00 417.90V426.50M272.28 420.05L279.72 424.35M272.28 424.35L279.72 420.05" stroke="#231F20" stroke-width="1.35" fill="none" stroke-linecap="round"/>
<text x="72.3" y="513.5" font-size="13.5" textLength="57.7" lengthAdjust="spacingAndGlyphs" fill="#231F20" stroke="#231F20" stroke-width="0.25">DAG 38:4</text>
<text x="157" y="512.2" font-size="13.5" textLength="51.2" lengthAdjust="spacingAndGlyphs" fill="#231F20" stroke="#231F20" stroke-width="0.25">P<tspan font-family="Liberation Serif" font-size="1.05em">I</tspan>P 38:4</text>
<text x="233.5" y="512.1" font-size="13.5" textLength="19.5" lengthAdjust="spacingAndGlyphs" fill="#231F20" stroke="#231F20" stroke-width="0.25">P<tspan font-family="Liberation Serif" font-size="1.05em">I</tspan>P</text>
<text x="253" y="517" font-size="9" fill="#231F20">2</text>
<text x="261.8" y="512.1" font-size="13.5" textLength="27" lengthAdjust="spacingAndGlyphs" fill="#231F20" stroke="#231F20" stroke-width="0.25">38:4</text>
</svg>
</body></html>
